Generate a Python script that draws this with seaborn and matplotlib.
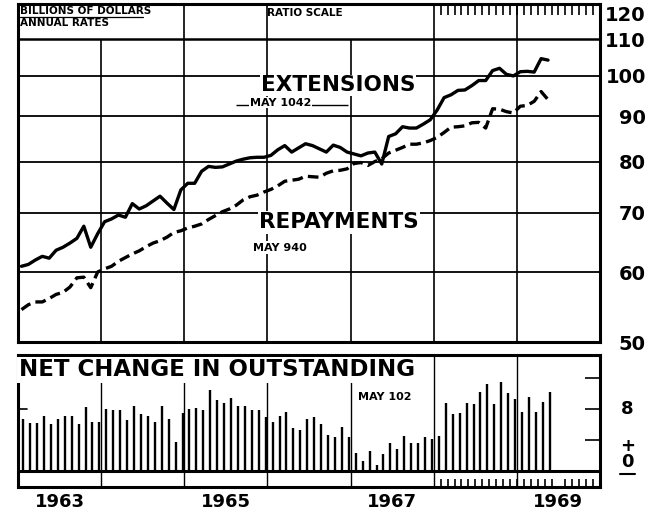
import numpy as np
import pandas as pd
import matplotlib
matplotlib.use('Agg')
import matplotlib.pyplot as plt
import seaborn as sns

# monthly, Jan 1963 - May 1969, billions of dollars, annual rates
extensions = [60.9, 61.2, 61.9, 62.5, 62.2, 63.5, 64.0, 64.7, 65.5, 67.6, 64.0, 66.3,
              68.4, 68.9, 69.6, 69.2, 71.7, 70.7, 71.3, 72.2, 73.1, 71.8, 70.6, 74.3,
              75.6, 75.6, 78.0, 79.0, 78.8, 78.9, 79.5, 80.1, 80.5, 80.8, 80.9, 80.9,
              81.3, 82.5, 83.4, 82.0, 82.9, 83.8, 83.4, 82.7, 82.0, 83.5, 83.0, 82.0,
              81.6, 81.2, 81.8, 82.0, 79.5, 85.4, 86.0, 87.6, 87.3, 87.3, 88.2, 89.2,
              91.5, 94.5, 95.2, 96.3, 96.4, 97.5, 98.8, 98.8, 101.4, 102.0, 100.4, 100.0,
              101.1, 101.2, 101.0, 104.6, 104.2]
repayments = [54.4, 55.1, 55.5, 55.5, 56.0, 56.6, 56.9, 57.7, 59.1, 59.2, 57.6, 60.0,
              60.5, 60.9, 61.7, 62.3, 62.9, 63.4, 64.1, 64.7, 65.1, 65.7, 66.5, 66.8,
              67.3, 67.6, 68.0, 68.8, 69.5, 70.2, 70.7, 71.4, 72.4, 73.0, 73.3, 73.9,
              74.4, 75.1, 76.0, 76.2, 76.4, 77.0, 76.9, 76.8, 77.6, 78.1, 78.2, 78.5,
              79.6, 79.8, 79.2, 80.0, 80.6, 81.8, 82.4, 83.0, 83.7, 83.7, 84.0, 84.5,
              85.2, 86.3, 87.5, 87.6, 87.8, 88.5, 88.6, 87.3, 91.8, 91.7, 91.1, 90.8,
              92.4, 92.6, 93.6, 96.0, 94.0]
net_change = [6.8, 6.2, 6.2, 7.1, 6.1, 6.8, 7.2, 7.1, 6.1, 8.3, 6.4, 6.4,
              8.0, 7.9, 7.9, 6.6, 8.5, 7.4, 7.1, 6.4, 8.4, 6.8, 3.8, 7.5,
              8.1, 8.2, 7.9, 10.5, 9.2, 8.8, 9.5, 8.5, 8.4, 7.9, 7.9, 7.0,
              6.4, 7.1, 7.7, 5.6, 5.4, 6.8, 7.0, 6.1, 4.7, 4.4, 5.8, 4.5,
              2.4, 1.3, 2.7, 0.9, 2.2, 3.7, 2.9, 4.6, 3.7, 3.7, 4.5, 4.2,
              4.6, 8.9, 7.4, 7.6, 8.8, 8.7, 10.3, 11.3, 8.7, 11.5, 10.1, 9.3,
              7.7, 9.6, 7.7, 9.0, 10.2]

years = [1963, 1964, 1965, 1966, 1967, 1968, 1969, 1970]
label_years = [1963, 1965, 1967, 1969]
year_labels = ['1963', '1965', '1967', '1969']
ratio_ticks = [50, 60, 70, 80, 90, 100, 110, 120]
ratio_labels = ['50', '60', '70', '80', '90', '100', '110', '120']
grid_levels = [60, 70, 80, 90, 100, 110]
header_years = [1965, 1966, 1968, 1969]

n = len(extensions)
line_dates = 1963 + (np.arange(n) + 0.5) / 12
bar_dates = 1963 + (np.arange(n) + 0.75) / 12
month_ticks = 1968 + np.arange(1, 24) / 12

df = pd.DataFrame({
    'date': np.concatenate([line_dates, line_dates]),
    'value': extensions + repayments,
    'series': ['EXTENSIONS'] * n + ['REPAYMENTS'] * n,
})

sns.set_style('white')
plt.rcParams['font.family'] = ['DejaVu Sans']
plt.rcParams['font.weight'] = 'bold'
plt.rcParams['text.color'] = 'black'
plt.rcParams['xtick.color'] = 'black'
plt.rcParams['ytick.color'] = 'black'
plt.rcParams['xtick.labelcolor'] = 'black'
plt.rcParams['ytick.labelcolor'] = 'black'

fig = plt.figure(figsize=(6.5, 5.12), dpi=100)
ax = fig.add_axes([18 / 650, 1 - 342 / 512, 582 / 650, 338 / 512])
ax2 = fig.add_axes([18 / 650, 1 - 487 / 512, 582 / 650, 132 / 512])

# ---- top panel: ratio scale
ax.set_yscale('log')
ax.set_xlim(1963, 1970)
ax.set_ylim(50, 120.6)
for v in grid_levels:
    ax.axhline(v, color='black', lw=1.3 if v < 110 else 1.8, zorder=1)
ax.vlines(years[1:-1], 50, 110, color='black', lw=1.2, zorder=1)
ax.vlines(header_years, 110, 120.6, color='black', lw=1.2, zorder=1)

sns.lineplot(data=df, x='date', y='value', style='series',
             dashes={'EXTENSIONS': '', 'REPAYMENTS': (3.2, 1.6)},
             color='black', linewidth=2.4, legend=False, ax=ax, zorder=3)

ax.yaxis.set_minor_locator(matplotlib.ticker.NullLocator())
ax.yaxis.tick_right()
ax.set_yticks(ratio_ticks)
ax.set_yticklabels(ratio_labels, fontsize=14, fontweight='bold')
for lab in ax.get_yticklabels():
    lab.set_horizontalalignment('right')
ax.get_yticklabels()[-1].set_verticalalignment('top')
ax.tick_params(axis='y', length=0, pad=33)
ax.set_xticks([])
ax.set_xticks(month_ticks, minor=True)
ax.tick_params(axis='x', which='minor', direction='in', top=True, bottom=False,
               length=8, width=1.2, color='black')
ax.set_xlabel('')
ax.set_ylabel('')
for s in ax.spines.values():
    s.set_linewidth(2.2)
    s.set_color('black')

ax.text(0.004, 0.979, 'BILLIONS OF DOLLARS', transform=ax.transAxes,
        fontsize=7.5, fontweight='bold', va='center', ha='left')
ax.plot([0.004, 0.215], [0.963, 0.963], transform=ax.transAxes, color='black', lw=0.9)
ax.text(0.004, 0.944, 'ANNUAL RATES', transform=ax.transAxes,
        fontsize=7.5, fontweight='bold', va='center', ha='left')
ax.text(1966.45, 117.8, 'RATIO SCALE', fontsize=7.5, fontweight='bold',
        ha='center', va='center')

ax.text(1966.85, 97.6, 'EXTENSIONS', fontsize=15.5, fontweight='bold',
        ha='center', va='center', zorder=4,
        bbox=dict(facecolor='white', edgecolor='none', pad=0.5))
ax.hlines(92.7, 1965.62, 1966.97, color='black', lw=1.0, zorder=2)
ax.text(1965.79, 93.3, 'MAY 1042', fontsize=8, fontweight='bold',
        ha='left', va='center', zorder=4,
        bbox=dict(facecolor='white', edgecolor='none', pad=0.5))
ax.text(1966.86, 68.3, 'REPAYMENTS', fontsize=15.5, fontweight='bold',
        ha='center', va='center', zorder=4,
        bbox=dict(facecolor='white', edgecolor='none', pad=1))
ax.text(1965.83, 63.9, 'MAY 940', fontsize=8, fontweight='bold',
        ha='left', va='center', zorder=4,
        bbox=dict(facecolor='white', edgecolor='none', pad=1))

# ---- bottom panel: net change
ax2.set_xlim(1963, 1970)
ax2.set_ylim(-2.0, 15.03)
ax2.vlines(years[1:-1], -2.0, 15.03, color='black', lw=1.0, zorder=1)
ax2.vlines(bar_dates, 0, net_change, color='black', lw=1.7, zorder=2)
ax2.axhline(0, color='black', lw=2.2, zorder=3)

ax2.set_yticks([4, 8, 12])
ax2.set_yticklabels([])
ax2.tick_params(axis='y', direction='in', left=False, right=True, length=11,
                width=1.2, color='black')
ax2.plot([0, 0.016], [8, 8], transform=ax2.get_yaxis_transform(), color='black', lw=1.2)

ax2.set_xticks([y + 0.5 for y in label_years])
ax2.set_xticklabels(year_labels, fontsize=13, fontweight='bold')
ax2.tick_params(axis='x', which='major', length=0, pad=4)
ax2.set_xticks(month_ticks, minor=True)
ax2.tick_params(axis='x', which='minor', direction='in', bottom=True,
                length=6, width=1.2, color='black')
for s in ax2.spines.values():
    s.set_linewidth(2.2)
    s.set_color('black')

ax2.text(1963.01, 13.1, 'NET CHANGE IN OUTSTANDING', fontsize=16.5, fontweight='bold',
         ha='left', va='center', zorder=4,
         bbox=dict(facecolor='white', edgecolor='none', pad=1))
ax2.text(1967.09, 9.6, 'MAY 102', fontsize=8, fontweight='bold',
         ha='left', va='center', zorder=4,
         bbox=dict(facecolor='white', edgecolor='none', pad=1))

tr = ax2.get_yaxis_transform()
ax2.text(1.047, 8, '8', transform=tr, fontsize=13, fontweight='bold',
         ha='center', va='center')
ax2.text(1.047, 3.3, '+', transform=tr, fontsize=13, fontweight='bold',
         ha='center', va='center')
ax2.text(1.047, 1.2, '0', transform=tr, fontsize=13, fontweight='bold',
         ha='center', va='center')
ax2.plot([1.035, 1.06], [-0.3, -0.3], transform=tr, color='black', lw=1.5,
         clip_on=False)

fig.savefig('out.png', dpi=100, facecolor='white')
